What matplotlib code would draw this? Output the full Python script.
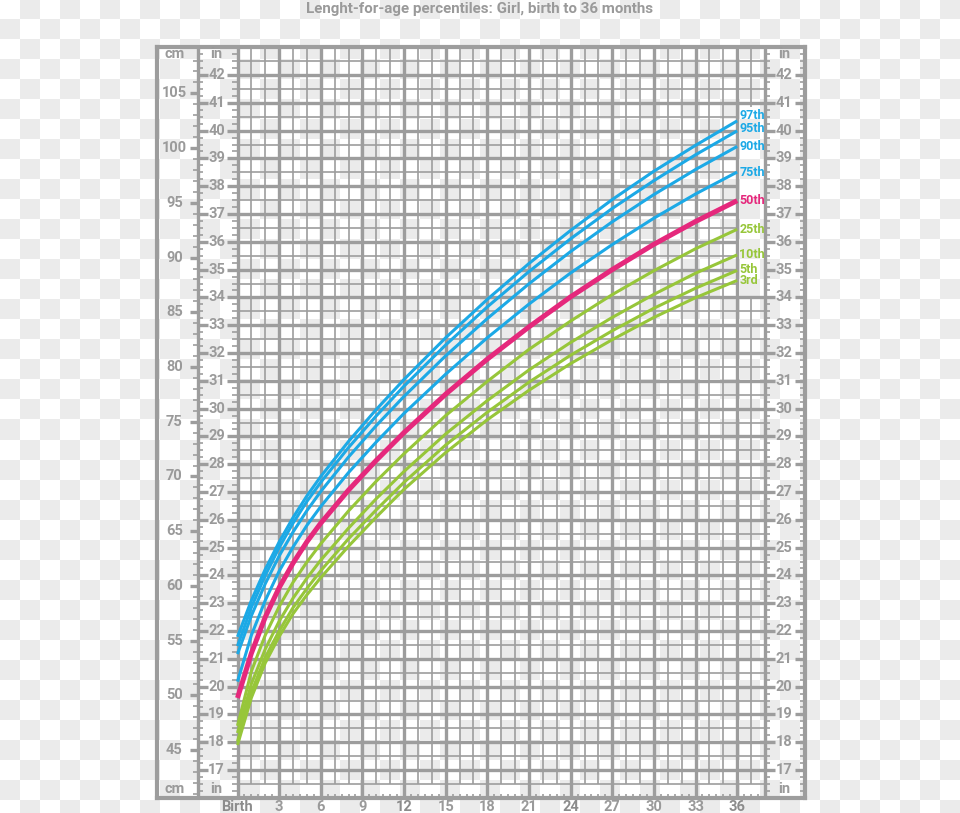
import numpy as np
import matplotlib
matplotlib.use("Agg")
import matplotlib.pyplot as plt
from matplotlib.colors import ListedColormap

# percentile curves, length in inches
months = [0, 1, 2, 3, 4, 5, 6, 8, 10, 12, 15, 18, 21, 24, 27, 30, 33, 36]
p3 = [17.90, 19.60, 20.85, 21.80, 22.62, 23.30, 23.92, 25.05, 26.10, 27.10, 28.42, 29.60, 30.66, 31.62, 32.48, 33.28, 33.99, 34.61]
p5 = [18.02, 19.80, 21.05, 22.00, 22.84, 23.53, 24.17, 25.32, 26.36, 27.35, 28.69, 29.87, 30.95, 31.92, 32.80, 33.61, 34.33, 34.97]
p10 = [18.33, 20.10, 21.35, 22.35, 23.18, 23.90, 24.55, 25.70, 26.76, 27.74, 29.09, 30.29, 31.39, 32.38, 33.28, 34.11, 34.87, 35.53]
p25 = [18.59, 20.55, 21.85, 22.88, 23.75, 24.48, 25.14, 26.32, 27.39, 28.38, 29.75, 30.98, 32.13, 33.15, 34.10, 34.96, 35.75, 36.45]
p50 = [19.59, 21.20, 22.50, 23.56, 24.44, 25.21, 25.88, 27.07, 28.14, 29.14, 30.52, 31.78, 32.94, 34.02, 35.00, 35.91, 36.73, 37.48]
p75 = [20.18, 21.85, 23.10, 24.15, 25.02, 25.80, 26.48, 27.70, 28.80, 29.83, 31.24, 32.55, 33.76, 34.88, 35.90, 36.85, 37.72, 38.51]
p90 = [21.17, 22.55, 23.70, 24.70, 25.56, 26.33, 27.02, 28.26, 29.39, 30.44, 31.90, 33.24, 34.49, 35.65, 36.72, 37.70, 38.60, 39.43]
p95 = [21.46, 22.85, 24.00, 25.00, 25.88, 26.66, 27.35, 28.60, 29.74, 30.81, 32.29, 33.66, 34.93, 36.11, 37.20, 38.20, 39.13, 39.99]
p97 = [21.79, 23.10, 24.22, 25.20, 26.08, 26.86, 27.56, 28.82, 29.97, 31.05, 32.55, 33.93, 35.22, 36.41, 37.52, 38.54, 39.47, 40.35]

pct_names = ["97th", "95th", "90th", "75th", "50th", "25th", "10th", "5th", "3rd"]
pct_series = [p97, p95, p90, p75, p50, p25, p10, p5, p3]

month_ticks = list(range(0, 37, 3))
month_labels = ["Birth"] + [str(m) for m in range(3, 37, 3)]
inch_labels = list(range(17, 43))
cm_labels = list(range(45, 106, 5))

TITLE = "Lenght-for-age percentiles: Girl, birth to 36 months"

# colours / styles
GRID = "#9d9d9d"
TXT = "#9a9a9a"
DARK = "#8c8c8c"
BLUE = "#1ca9e6"
PINK = "#e5287c"
GREEN = "#97c63a"
THIN, THICK = 1.2, 2.4
FONT = ["Liberation Sans Narrow", "DejaVu Sans Condensed", "Roboto", "DejaVu Sans"]

W, H = 960, 813
fig = plt.figure(figsize=(W / 100, H / 100), dpi=100)

# transparent-png checker behind everything
bg = fig.add_axes([0, 0, 1, 1], zorder=-10)
rows, cols = 41, 48
checker = np.add.outer(np.arange(rows), np.arange(cols)) % 2
bg.imshow(checker, cmap=ListedColormap(["white", "#ebebeb"]), extent=(0, cols * 20, rows * 20, 0),
          interpolation="nearest", aspect="auto")
bg.set_xlim(0, W)
bg.set_ylim(H, 0)
bg.axis("off")

# main axes: x in months, y in inches, covering the whole frame
X0, X1, Y0, Y1 = -5.8, 40.9, 16.0, 43.0
px_m, px_in = 13.88, 27.8
left = 237.5 + X0 * px_m
top = 75 - (Y1 - 42) * px_in
ax = fig.add_axes([left / W, 1 - (top + (Y1 - Y0) * px_in) / H,
                   (X1 - X0) * px_m / W, (Y1 - Y0) * px_in / H])
ax.set_facecolor("none")
ax.set_xlim(X0, X1)
ax.set_ylim(Y0, Y1)
ax.set_xticks([])
ax.set_yticks([])
for s in ax.spines.values():
    s.set_color(GRID)
    s.set_linewidth(3)

# label box on the right, kept free of grid
BOX_X = (36, 38)
BOX_Y = (34.0, 40.85)

# vertical grid
for m in range(0, 39):
    thick = m % 3 == 0 or m == 38
    lw = THICK if thick else THIN
    lo = Y0 if thick else 16.5
    if BOX_X[0] < m < BOX_X[1]:
        ax.vlines(m, lo, BOX_Y[0], color=GRID, lw=lw)
        ax.vlines(m, BOX_Y[1], Y1, color=GRID, lw=lw)
    else:
        ax.vlines(m, lo, Y1, color=GRID, lw=lw)
# small ticks in the bottom row
tick_x = [m + 0.5 for m in range(38)] + [m for m in range(38) if m % 3]
ax.vlines(tick_x, Y0, 16.15, color=GRID, lw=THIN)

# horizontal grid every half inch
for y in np.arange(16.5, 43, 0.5):
    lw = THICK if y == int(y) else THIN
    if BOX_Y[0] < y < BOX_Y[1]:
        ax.hlines(y, 0, BOX_X[0], color=GRID, lw=lw)
    else:
        ax.hlines(y, 0, 38, color=GRID, lw=lw)

# left rulers
cmx = -2.85
ax.vlines(cmx, Y0, Y1, color=GRID, lw=THICK)
quarters = [q for q in np.arange(16.25, 43, 0.25) if q != int(q)]
ax.hlines(quarters, cmx, cmx + 0.4, color=GRID, lw=THIN)
ax.hlines(quarters, -0.4, 0, color=GRID, lw=THIN)
ax.hlines(quarters, 38, 38.4, color=GRID, lw=THIN)
ax.hlines(quarters, X1 - 0.4, X1, color=GRID, lw=THIN)
txt = dict(color=TXT, fontsize=10.5, fontweight="bold", family=FONT, ha="center", va="center")
for v in inch_labels:
    ax.hlines(v, cmx, cmx + 0.75, color=GRID, lw=THICK)
    ax.hlines(v, -0.75, 0, color=GRID, lw=THICK)
    ax.hlines(v, 38, 38.75, color=GRID, lw=THICK)
    ax.hlines(v, X1 - 0.75, X1, color=GRID, lw=THICK)
    ax.text(-1.5, v, str(v), **txt)
    ax.text(39.4, v, str(v), **txt)

# cm scale
cm_minor = [c / 2.54 for c in range(41, 110) if c % 5 and 16.1 < c / 2.54 < 42.9]
ax.hlines(cm_minor, cmx - 0.35, cmx, color=GRID, lw=THIN)
for c in cm_labels:
    ax.hlines(c / 2.54, cmx - 0.6, cmx, color=GRID, lw=THICK)
    ax.text(-4.55, c / 2.54, str(c), **txt)

for yy in (42.74, 16.33):
    ax.text(-4.5, yy, "cm", **txt)
    ax.text(-1.5, yy, "in", **txt)
    ax.text(39.4, yy, "in", **txt)

# x labels under the frame
for m, lab in zip(month_ticks, month_labels):
    major = m % 12 == 0
    ax.text(m, 15.68, lab, color=DARK if major else TXT, fontsize=10.5, fontweight="bold",
            family=FONT, ha="center", va="center", clip_on=False)

# curves
colors = [BLUE] * 4 + [PINK] + [GREEN] * 4
nudge = {"97th": 0.2, "95th": 0.08, "5th": 0.05}
for name, vals, col in zip(pct_names, pct_series, colors):
    lw = 3.6 if name == "50th" else 2.2
    ax.plot(months, vals, color=col, lw=lw, solid_capstyle="butt", zorder=5)
    ax.text(36.15, vals[-1] + nudge.get(name, 0), name, color=col, fontsize=9,
            fontweight="bold", family=FONT, ha="left", va="center", zorder=6)

fig.text(479.5 / W, 1 - 9 / H, TITLE, color=TXT, fontsize=10.9, fontweight="bold",
         family=FONT, ha="center", va="center")

fig.savefig("out.png", dpi=100)
